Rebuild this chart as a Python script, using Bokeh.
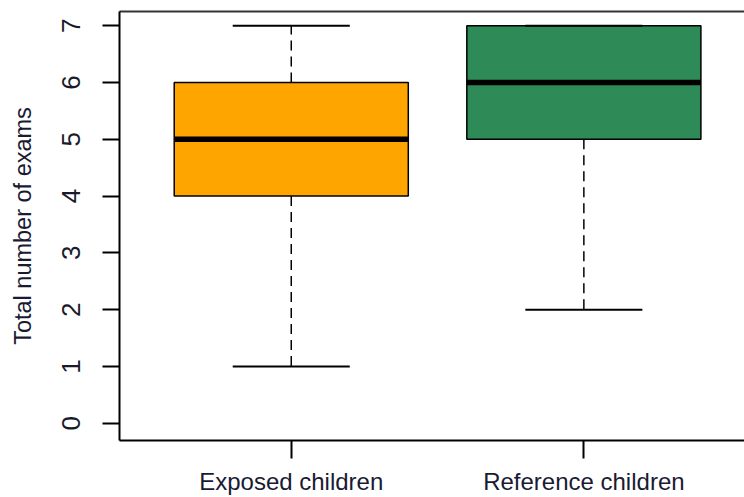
from bokeh.plotting import figure
from bokeh.models import FixedTicker, LinearAxis, Range1d
from bokeh.embed import file_html
from bokeh.resources import INLINE

# ---- data ----
groups = ["Exposed children", "Reference children"]
mins = [1, 2]
q1s = [4, 5]
medians = [5, 6]
q3s = [6, 7]
maxs = [7, 7]
colors = ["#FFA500", "#2E8B57"]
y_ticks = [0, 1, 2, 3, 4, 5, 6, 7]

xs = list(range(1, len(groups) + 1))
box_half = 0.4
cap_half = 0.2
FONT = "Liberation Sans"

p = figure(width=744, height=497, output_backend="svg", toolbar_location=None,
           x_range=Range1d(0.413, 2.549), y_range=Range1d(-0.305, 7.252),
           min_border_left=119, min_border_right=0, min_border_top=11,
           min_border_bottom=57, x_axis_location=None, y_axis_location=None)
p.background_fill_color = "white"
p.border_fill_color = "white"
p.outline_line_color = None
p.xgrid.visible = False
p.ygrid.visible = False

# whiskers
p.segment(x0=xs, x1=xs, y0=q3s, y1=maxs, line_color="black", line_width=1.5, line_dash="10 6")
p.segment(x0=xs, x1=xs, y0=q1s, y1=mins, line_color="black", line_width=1.5, line_dash="10 6")
# boxes
p.vbar(x=xs, top=q3s, bottom=q1s, width=2 * box_half, fill_color=colors,
       line_color="black", line_width=1.5)
# medians
p.segment(x0=[x - box_half for x in xs], x1=[x + box_half for x in xs], y0=medians, y1=medians,
          line_color="black", line_width=5.5, line_cap="butt")
# caps
p.segment(x0=[x - cap_half for x in xs], x1=[x + cap_half for x in xs], y0=maxs, y1=maxs,
          line_color="black", line_width=2)
p.segment(x0=[x - cap_half for x in xs], x1=[x + cap_half for x in xs], y0=mins, y1=mins,
          line_color="black", line_width=2)

# axes
yax = LinearAxis(ticker=FixedTicker(ticks=y_ticks), axis_label="Total number of exams")
yax.major_label_orientation = "vertical"
yax.major_tick_out = 17
yax.major_tick_in = 0
yax.minor_tick_out = 0
yax.minor_tick_in = 0
yax.major_label_standoff = 22
yax.major_label_text_font = FONT
yax.major_label_text_font_size = "26px"
yax.major_label_text_color = "#1a1a2a"
yax.axis_label_text_font = FONT
yax.axis_label_text_font_size = "23.5px"
yax.axis_label_text_font_style = "normal"
yax.axis_label_text_color = "#1a1a33"
yax.axis_label_standoff = 24
yax.axis_line_width = 2
yax.major_tick_line_width = 2
p.add_layout(yax, "left")

xax = LinearAxis(ticker=FixedTicker(ticks=xs))
xax.major_label_overrides = {x: g for x, g in zip(xs, groups)}
xax.major_tick_out = 18
xax.major_tick_in = 0
xax.minor_tick_out = 0
xax.minor_tick_in = 0
xax.major_label_standoff = 9
xax.major_label_text_font = FONT
xax.major_label_text_font_size = "24px"
xax.major_label_text_color = "#1a1a33"
xax.axis_line_width = 2
xax.major_tick_line_width = 2
p.add_layout(xax, "below")

tax = LinearAxis(ticker=FixedTicker(ticks=[]))
tax.major_tick_out = 0
tax.major_tick_in = 0
tax.minor_tick_out = 0
tax.minor_tick_in = 0
tax.major_label_text_font_size = "0px"
tax.major_label_standoff = 0
tax.axis_line_width = 2
tax.axis_line_color = "#333333"
p.add_layout(tax, "above")

open("out.html", "w").write(file_html(p, INLINE))
